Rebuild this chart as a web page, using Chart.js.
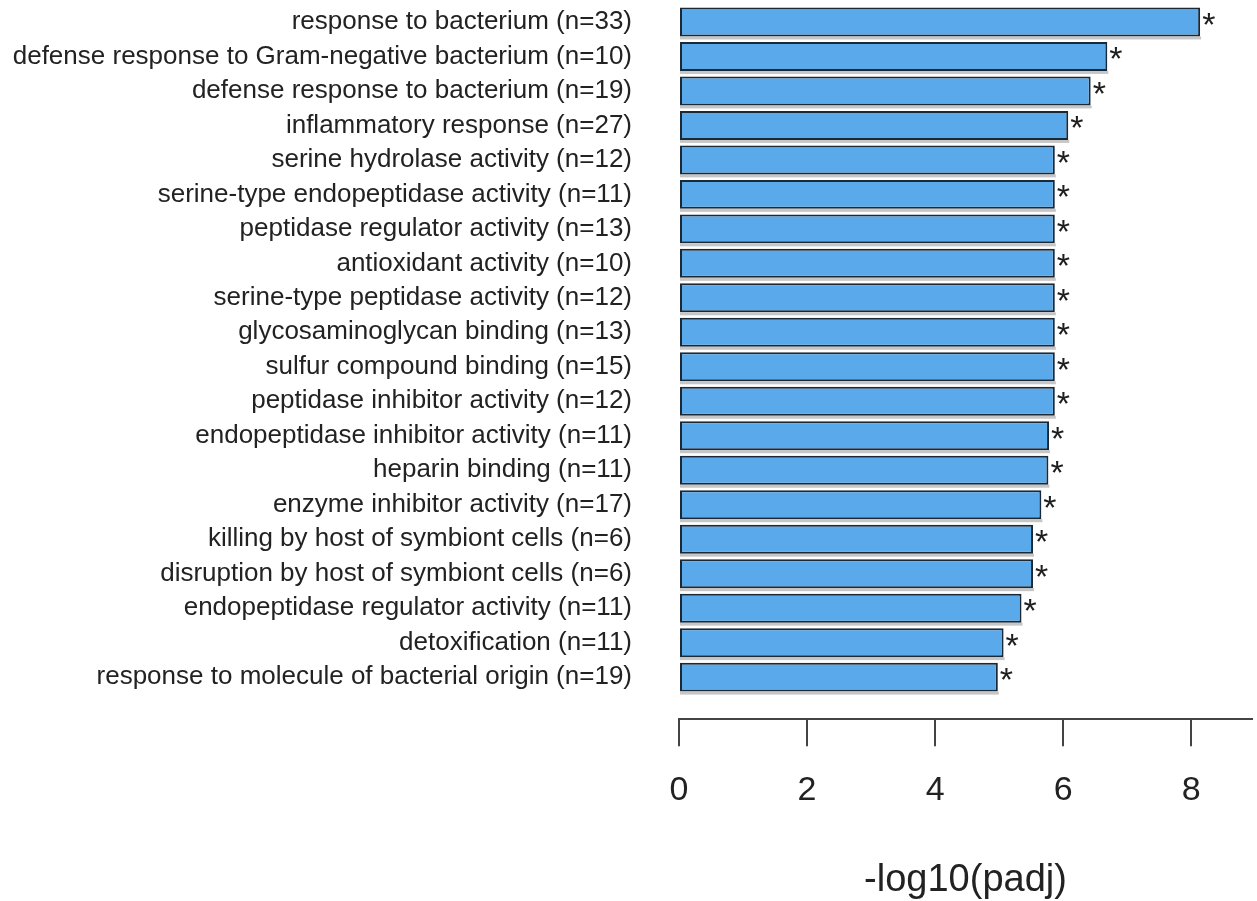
<!DOCTYPE html>
<html lang="en">
<head>
<meta charset="UTF-8">
<title>GO enrichment</title>
<script src="https://cdn.jsdelivr.net/npm/chart.js"></script>
<style>
  html, body { margin: 0; padding: 0; background: #fff; }
  #wrap { width: 1257px; height: 901px; }
</style>
</head>
<body>
<div id="wrap"><canvas id="goChart"></canvas></div>
<script>
// GO terms, top to bottom
const terms = [
  'response to bacterium (n=33)',
  'defense response to Gram-negative bacterium (n=10)',
  'defense response to bacterium (n=19)',
  'inflammatory response (n=27)',
  'serine hydrolase activity (n=12)',
  'serine-type endopeptidase activity (n=11)',
  'peptidase regulator activity (n=13)',
  'antioxidant activity (n=10)',
  'serine-type peptidase activity (n=12)',
  'glycosaminoglycan binding (n=13)',
  'sulfur compound binding (n=15)',
  'peptidase inhibitor activity (n=12)',
  'endopeptidase inhibitor activity (n=11)',
  'heparin binding (n=11)',
  'enzyme inhibitor activity (n=17)',
  'killing by host of symbiont cells (n=6)',
  'disruption by host of symbiont cells (n=6)',
  'endopeptidase regulator activity (n=11)',
  'detoxification (n=11)',
  'response to molecule of bacterial origin (n=19)'
];
// -log10(padj)
const padjScores = [8.14, 6.69, 6.43, 6.08, 5.87, 5.87, 5.87, 5.87, 5.87, 5.87,
                    5.87, 5.87, 5.78, 5.77, 5.66, 5.53, 5.53, 5.35, 5.07, 4.98];
const signifMarks = ['*', '*', '*', '*', '*', '*', '*', '*', '*', '*',
                     '*', '*', '*', '*', '*', '*', '*', '*', '*', '*'];
const xTicks = [0, 2, 4, 6, 8];

const FONT = '"Liberation Sans", Arial, sans-serif';

// grey strip under each bar + the star after it
const barExtras = {
  id: 'barExtras',
  beforeDatasetsDraw(chart) {
    const ctx = chart.ctx;
    ctx.save();
    ctx.fillStyle = '#c6c6c6';
    chart.getDatasetMeta(0).data.forEach(bar => {
      ctx.fillRect(bar.base, bar.y + bar.height / 2, bar.x - bar.base + 1, 3);
    });
    ctx.restore();
  },
  afterDatasetsDraw(chart) {
    const ctx = chart.ctx;
    ctx.save();
    ctx.fillStyle = '#1e1e1e';
    ctx.font = '34px ' + FONT;
    ctx.textAlign = 'left';
    ctx.textBaseline = 'alphabetic';
    chart.getDatasetMeta(0).data.forEach((bar, i) => {
      ctx.fillText(signifMarks[i], bar.x + 2, bar.y + 14);
    });
    ctx.restore();
  }
};

new Chart(document.getElementById('goChart'), {
  type: 'bar',
  data: {
    datasets: [{
      data: padjScores.map((v, i) => ({ x: v, y: i })),
      backgroundColor: '#5aa9ea',
      borderColor: '#1b2836',
      borderWidth: 2,
      borderSkipped: false,
      categoryPercentage: 1,
      barPercentage: 0.84
    }]
  },
  options: {
    indexAxis: 'y',
    responsive: true,
    maintainAspectRatio: false,
    animation: false,
    layout: { padding: { top: 3, right: 5, bottom: 1, left: 0 } },
    plugins: { legend: { display: false }, tooltip: { enabled: false } },
    scales: {
      y: {
        type: 'linear',
        offset: false,
        reverse: true,
        min: -0.55,
        max: 20.22,
        afterBuildTicks: s => { s.ticks = terms.map((_, i) => ({ value: i })); },
        afterFit: s => {
          s.width = 679;
          s.paddingTop = 0;
          s.paddingBottom = 0;
        },
        grid: { display: false, offset: false, drawTicks: true, tickLength: 47 },
        border: { display: false },
        ticks: {
          autoSkip: false,
          padding: 0,
          color: '#222',
          font: { family: FONT, size: 26 },
          callback: v => terms[v]
        }
      },
      x: {
        type: 'linear',
        min: 0,
        max: 8.95,
        afterBuildTicks: s => { s.ticks = xTicks.map(v => ({ value: v })); },
        grid: { drawOnChartArea: false, drawTicks: true, tickLength: 27, color: '#444', lineWidth: 2 },
        border: { display: true, color: '#444', width: 2 },
        ticks: { padding: 24, maxRotation: 0, color: '#222', font: { family: FONT, size: 34 } },
        title: {
          display: true,
          text: '-log10(padj)',
          color: '#222',
          font: { family: FONT, size: 38, lineHeight: 1 },
          padding: { top: 27, bottom: 0 }
        }
      }
    }
  },
  plugins: [barExtras]
});
</script>
</body>
</html>
